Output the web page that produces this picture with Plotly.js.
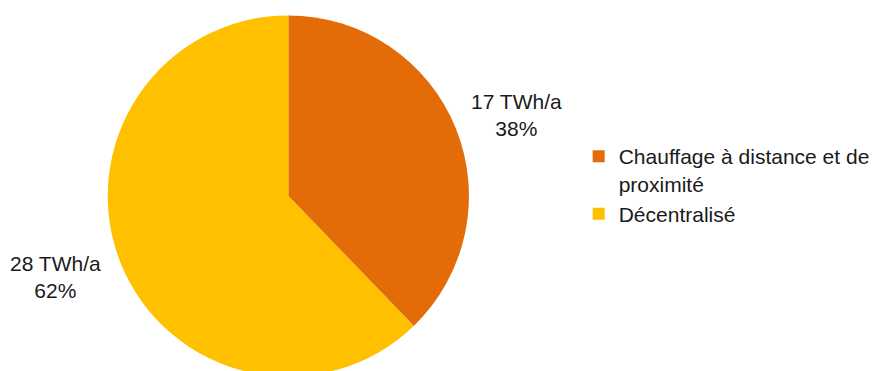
<!DOCTYPE html>
<html>
<head>
<meta charset="utf-8">
<script src="https://cdn.plot.ly/plotly-3.0.1.min.js"></script>
<style>html,body{margin:0;padding:0;overflow:hidden;background:#fff;}#chart{width:875px;height:380px;}</style>
</head>
<body>
<div id="chart"></div>
<script>
const categories = ["Chauffage à distance et de<br>proximité", "Décentralisé"];
const values = [17, 28];
const unit = "TWh/a";
const colors = ["#E36C09", "#FFC000"];

const W = 875, H = 380;
const total = values.reduce((a, b) => a + b, 0);
const labelPos = [[518, 115], [56, 277]];
const annotations = values.map((v, i) => ({
  text: v + " " + unit + "<br>" + Math.round(v / total * 100) + "%",
  x: labelPos[i][0] / W, y: (H - labelPos[i][1]) / H,
  xref: "paper", yref: "paper", showarrow: false,
  xanchor: "center", yanchor: "middle", align: "center",
  font: {family: "Liberation Sans, Arial, sans-serif", size: 21, color: "#1a1a1a"}
}));

const trace = {
  type: "pie",
  labels: categories,
  values: values,
  marker: {colors: colors, line: {width: 0}},
  sort: false,
  direction: "clockwise",
  rotation: 0,
  textinfo: "none",
  hoverinfo: "label+value+percent",
  domain: {x: [108 / W, 470 / W], y: [(H - 377) / H, (H - 15) / H]}
};

const layout = {
  width: W, height: H,
  margin: {l: 0, r: 0, t: 0, b: 0},
  paper_bgcolor: "#fff",
  showlegend: true,
  legend: {
    x: 580 / W, y: (H - 136) / H, xanchor: "left", yanchor: "top",
    font: {family: "Liberation Sans, Arial, sans-serif", size: 21, color: "#1a1a1a"},
    valign: "top", bgcolor: "rgba(0,0,0,0)", itemwidth: 30
  },
  annotations: annotations
};

Plotly.newPlot("chart", [trace], layout, {displayModeBar: false, staticPlot: true});
</script>
</body>
</html>
